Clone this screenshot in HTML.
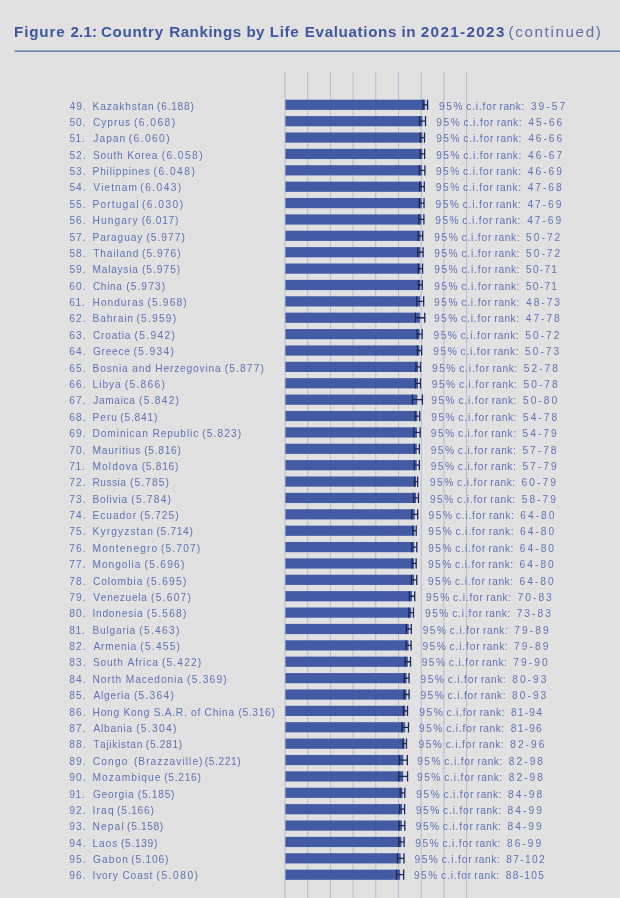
<!DOCTYPE html>
<html><head><meta charset="utf-8"><title>Figure 2.1</title>
<style>
html,body{margin:0;padding:0;}
body{width:620px;height:898px;background:#e1e1e1;position:relative;overflow:hidden;font-family:"Liberation Sans",sans-serif;font-kerning:none;}
#w{position:absolute;left:0;top:0;width:620px;height:898px;filter:blur(0.4px);}
span{position:absolute;white-space:pre;}
.t{top:22.2px;font-size:15.2px;line-height:20px;}
.tb{font-weight:bold;color:#3f57a0;}
.tc{color:#6071aa;}
.hr{position:absolute;left:14.5px;top:50.6px;width:606px;height:1.4px;background:#7d8fc4;}
svg{position:absolute;left:0;top:0;}
.r{position:absolute;left:0;width:620px;height:16px;font-size:10.2px;line-height:16px;color:#5e73b3;}
.r span{top:0.466px;}
</style></head><body><div id="w">

<span class="t tb" style="left:14.08px;letter-spacing:0.838px">Figure</span>
<span class="t tb" style="left:70.47px;letter-spacing:0.166px">2.1:</span>
<span class="t tb" style="left:100.88px;letter-spacing:0.674px">Country</span>
<span class="t tb" style="left:169.18px;letter-spacing:0.518px">Rankings</span>
<span class="t tb" style="left:246.40px;letter-spacing:0.245px">by</span>
<span class="t tb" style="left:269.78px;letter-spacing:0.638px">Life</span>
<span class="t tb" style="left:304.78px;letter-spacing:0.643px">Evaluations</span>
<span class="t tb" style="left:401.54px;letter-spacing:0.396px">in</span>
<span class="t tb" style="left:420.77px;letter-spacing:1.373px">2021-2023</span>
<span class="t tc" style="left:508.56px;letter-spacing:1.624px">(continued)</span>
<svg width="620" height="898" viewBox="0 0 620 898">
<rect x="14.5" y="50.4" width="606" height="1.6" fill="#6a80bc"/>
<rect x="284.50" y="72" width="1" height="826" fill="#b7bad3"/>
<rect x="307.20" y="72" width="1" height="826" fill="#b7bad3"/>
<rect x="329.90" y="72" width="1" height="826" fill="#b7bad3"/>
<rect x="352.60" y="72" width="1" height="826" fill="#b7bad3"/>
<rect x="375.30" y="72" width="1" height="826" fill="#b7bad3"/>
<rect x="398.00" y="72" width="1" height="826" fill="#b7bad3"/>
<rect x="420.70" y="72" width="1" height="826" fill="#b7bad3"/>
<rect x="443.40" y="72" width="1" height="826" fill="#b7bad3"/>
<rect x="466.10" y="72" width="1" height="826" fill="#b7bad3"/>
<rect x="285.4" y="99.70" width="139.9" height="10.2" fill="#435aa5"/>
<path d="M422.97 99.70v10.2M427.57 99.70v10.2M422.97 104.80h4.60" stroke="#1d2550" stroke-width="1.3" fill="none"/>
<rect x="285.4" y="116.08" width="137.1" height="10.2" fill="#435aa5"/>
<path d="M419.59 116.08v10.2M425.49 116.08v10.2M419.59 121.18h5.90" stroke="#1d2550" stroke-width="1.3" fill="none"/>
<rect x="285.4" y="132.46" width="137.0" height="10.2" fill="#435aa5"/>
<path d="M420.21 132.46v10.2M424.51 132.46v10.2M420.21 137.56h4.30" stroke="#1d2550" stroke-width="1.3" fill="none"/>
<rect x="285.4" y="148.84" width="136.9" height="10.2" fill="#435aa5"/>
<path d="M420.02 148.84v10.2M424.62 148.84v10.2M420.02 153.94h4.60" stroke="#1d2550" stroke-width="1.3" fill="none"/>
<rect x="285.4" y="165.22" width="136.7" height="10.2" fill="#435aa5"/>
<path d="M419.29 165.22v10.2M424.89 165.22v10.2M419.29 170.32h5.60" stroke="#1d2550" stroke-width="1.3" fill="none"/>
<rect x="285.4" y="181.61" width="136.6" height="10.2" fill="#435aa5"/>
<path d="M419.68 181.61v10.2M424.28 181.61v10.2M419.68 186.71h4.60" stroke="#1d2550" stroke-width="1.3" fill="none"/>
<rect x="285.4" y="197.99" width="136.3" height="10.2" fill="#435aa5"/>
<path d="M419.33 197.99v10.2M424.03 197.99v10.2M419.33 203.09h4.70" stroke="#1d2550" stroke-width="1.3" fill="none"/>
<rect x="285.4" y="214.37" width="136.0" height="10.2" fill="#435aa5"/>
<path d="M418.89 214.37v10.2M423.89 214.37v10.2M418.89 219.47h5.00" stroke="#1d2550" stroke-width="1.3" fill="none"/>
<rect x="285.4" y="230.75" width="135.1" height="10.2" fill="#435aa5"/>
<path d="M418.18 230.75v10.2M422.78 230.75v10.2M418.18 235.85h4.60" stroke="#1d2550" stroke-width="1.3" fill="none"/>
<rect x="285.4" y="247.13" width="135.1" height="10.2" fill="#435aa5"/>
<path d="M417.81 247.13v10.2M423.11 247.13v10.2M417.81 252.23h5.30" stroke="#1d2550" stroke-width="1.3" fill="none"/>
<rect x="285.4" y="263.51" width="135.0" height="10.2" fill="#435aa5"/>
<path d="M418.28 263.51v10.2M422.58 263.51v10.2M418.28 268.61h4.30" stroke="#1d2550" stroke-width="1.3" fill="none"/>
<rect x="285.4" y="279.89" width="135.0" height="10.2" fill="#435aa5"/>
<path d="M418.49 279.89v10.2M422.29 279.89v10.2M418.49 284.99h3.80" stroke="#1d2550" stroke-width="1.3" fill="none"/>
<rect x="285.4" y="296.27" width="134.9" height="10.2" fill="#435aa5"/>
<path d="M416.87 296.27v10.2M423.67 296.27v10.2M416.87 301.37h6.80" stroke="#1d2550" stroke-width="1.3" fill="none"/>
<rect x="285.4" y="312.65" width="134.7" height="10.2" fill="#435aa5"/>
<path d="M415.37 312.65v10.2M424.77 312.65v10.2M415.37 317.75h9.40" stroke="#1d2550" stroke-width="1.3" fill="none"/>
<rect x="285.4" y="329.03" width="134.3" height="10.2" fill="#435aa5"/>
<path d="M417.23 329.03v10.2M422.13 329.03v10.2M417.23 334.13h4.90" stroke="#1d2550" stroke-width="1.3" fill="none"/>
<rect x="285.4" y="345.42" width="134.1" height="10.2" fill="#435aa5"/>
<path d="M417.35 345.42v10.2M421.65 345.42v10.2M417.35 350.52h4.30" stroke="#1d2550" stroke-width="1.3" fill="none"/>
<rect x="285.4" y="361.80" width="132.8" height="10.2" fill="#435aa5"/>
<path d="M415.91 361.80v10.2M420.51 361.80v10.2M415.91 366.90h4.60" stroke="#1d2550" stroke-width="1.3" fill="none"/>
<rect x="285.4" y="378.18" width="132.6" height="10.2" fill="#435aa5"/>
<path d="M415.46 378.18v10.2M420.46 378.18v10.2M415.46 383.28h5.00" stroke="#1d2550" stroke-width="1.3" fill="none"/>
<rect x="285.4" y="394.56" width="132.0" height="10.2" fill="#435aa5"/>
<path d="M412.41 394.56v10.2M422.41 394.56v10.2M412.41 399.66h10.00" stroke="#1d2550" stroke-width="1.3" fill="none"/>
<rect x="285.4" y="410.94" width="132.0" height="10.2" fill="#435aa5"/>
<path d="M415.09 410.94v10.2M419.69 410.94v10.2M415.09 416.04h4.60" stroke="#1d2550" stroke-width="1.3" fill="none"/>
<rect x="285.4" y="427.32" width="131.6" height="10.2" fill="#435aa5"/>
<path d="M413.83 427.32v10.2M420.13 427.32v10.2M413.83 432.42h6.30" stroke="#1d2550" stroke-width="1.3" fill="none"/>
<rect x="285.4" y="443.70" width="131.4" height="10.2" fill="#435aa5"/>
<path d="M414.32 443.70v10.2M419.32 443.70v10.2M414.32 448.80h5.00" stroke="#1d2550" stroke-width="1.3" fill="none"/>
<rect x="285.4" y="460.08" width="131.4" height="10.2" fill="#435aa5"/>
<path d="M414.32 460.08v10.2M419.32 460.08v10.2M414.32 465.18h5.00" stroke="#1d2550" stroke-width="1.3" fill="none"/>
<rect x="285.4" y="476.46" width="130.7" height="10.2" fill="#435aa5"/>
<path d="M414.57 476.46v10.2M417.67 476.46v10.2M414.57 481.56h3.10" stroke="#1d2550" stroke-width="1.3" fill="none"/>
<rect x="285.4" y="492.84" width="130.7" height="10.2" fill="#435aa5"/>
<path d="M413.75 492.84v10.2M418.45 492.84v10.2M413.75 497.94h4.70" stroke="#1d2550" stroke-width="1.3" fill="none"/>
<rect x="285.4" y="509.22" width="129.4" height="10.2" fill="#435aa5"/>
<path d="M411.86 509.22v10.2M417.66 509.22v10.2M411.86 514.32h5.80" stroke="#1d2550" stroke-width="1.3" fill="none"/>
<rect x="285.4" y="525.61" width="129.1" height="10.2" fill="#435aa5"/>
<path d="M412.81 525.61v10.2M416.21 525.61v10.2M412.81 530.71h3.40" stroke="#1d2550" stroke-width="1.3" fill="none"/>
<rect x="285.4" y="541.99" width="128.9" height="10.2" fill="#435aa5"/>
<path d="M411.90 541.99v10.2M416.80 541.99v10.2M411.90 547.09h4.90" stroke="#1d2550" stroke-width="1.3" fill="none"/>
<rect x="285.4" y="558.37" width="128.7" height="10.2" fill="#435aa5"/>
<path d="M412.05 558.37v10.2M416.15 558.37v10.2M412.05 563.47h4.10" stroke="#1d2550" stroke-width="1.3" fill="none"/>
<rect x="285.4" y="574.75" width="128.7" height="10.2" fill="#435aa5"/>
<path d="M411.43 574.75v10.2M416.73 574.75v10.2M411.43 579.85h5.30" stroke="#1d2550" stroke-width="1.3" fill="none"/>
<rect x="285.4" y="591.13" width="126.7" height="10.2" fill="#435aa5"/>
<path d="M409.43 591.13v10.2M414.73 591.13v10.2M409.43 596.23h5.30" stroke="#1d2550" stroke-width="1.3" fill="none"/>
<rect x="285.4" y="607.51" width="125.8" height="10.2" fill="#435aa5"/>
<path d="M408.89 607.51v10.2M413.49 607.51v10.2M408.89 612.61h4.60" stroke="#1d2550" stroke-width="1.3" fill="none"/>
<rect x="285.4" y="623.89" width="123.4" height="10.2" fill="#435aa5"/>
<path d="M406.36 623.89v10.2M411.26 623.89v10.2M406.36 628.99h4.90" stroke="#1d2550" stroke-width="1.3" fill="none"/>
<rect x="285.4" y="640.27" width="123.2" height="10.2" fill="#435aa5"/>
<path d="M406.13 640.27v10.2M411.13 640.27v10.2M406.13 645.37h5.00" stroke="#1d2550" stroke-width="1.3" fill="none"/>
<rect x="285.4" y="656.65" width="122.5" height="10.2" fill="#435aa5"/>
<path d="M405.23 656.65v10.2M410.53 656.65v10.2M405.23 661.75h5.30" stroke="#1d2550" stroke-width="1.3" fill="none"/>
<rect x="285.4" y="673.04" width="121.3" height="10.2" fill="#435aa5"/>
<path d="M404.33 673.04v10.2M409.03 673.04v10.2M404.33 678.14h4.70" stroke="#1d2550" stroke-width="1.3" fill="none"/>
<rect x="285.4" y="689.42" width="121.2" height="10.2" fill="#435aa5"/>
<path d="M404.06 689.42v10.2M409.06 689.42v10.2M404.06 694.52h5.00" stroke="#1d2550" stroke-width="1.3" fill="none"/>
<rect x="285.4" y="705.80" width="120.1" height="10.2" fill="#435aa5"/>
<path d="M403.42 705.80v10.2M407.52 705.80v10.2M403.42 710.90h4.10" stroke="#1d2550" stroke-width="1.3" fill="none"/>
<rect x="285.4" y="722.18" width="119.8" height="10.2" fill="#435aa5"/>
<path d="M401.95 722.18v10.2M408.45 722.18v10.2M401.95 727.28h6.50" stroke="#1d2550" stroke-width="1.3" fill="none"/>
<rect x="285.4" y="738.56" width="119.3" height="10.2" fill="#435aa5"/>
<path d="M402.88 738.56v10.2M406.48 738.56v10.2M402.88 743.66h3.60" stroke="#1d2550" stroke-width="1.3" fill="none"/>
<rect x="285.4" y="754.94" width="117.9" height="10.2" fill="#435aa5"/>
<path d="M399.32 754.94v10.2M407.32 754.94v10.2M399.32 760.04h8.00" stroke="#1d2550" stroke-width="1.3" fill="none"/>
<rect x="285.4" y="771.32" width="117.8" height="10.2" fill="#435aa5"/>
<path d="M398.85 771.32v10.2M407.55 771.32v10.2M398.85 776.42h8.70" stroke="#1d2550" stroke-width="1.3" fill="none"/>
<rect x="285.4" y="787.70" width="117.1" height="10.2" fill="#435aa5"/>
<path d="M400.20 787.70v10.2M404.80 787.70v10.2M400.20 792.80h4.60" stroke="#1d2550" stroke-width="1.3" fill="none"/>
<rect x="285.4" y="804.08" width="116.7" height="10.2" fill="#435aa5"/>
<path d="M399.57 804.08v10.2M404.57 804.08v10.2M399.57 809.18h5.00" stroke="#1d2550" stroke-width="1.3" fill="none"/>
<rect x="285.4" y="820.46" width="116.5" height="10.2" fill="#435aa5"/>
<path d="M398.99 820.46v10.2M404.79 820.46v10.2M398.99 825.56h5.80" stroke="#1d2550" stroke-width="1.3" fill="none"/>
<rect x="285.4" y="836.85" width="116.1" height="10.2" fill="#435aa5"/>
<path d="M398.81 836.85v10.2M404.11 836.85v10.2M398.81 841.95h5.30" stroke="#1d2550" stroke-width="1.3" fill="none"/>
<rect x="285.4" y="853.23" width="115.3" height="10.2" fill="#435aa5"/>
<path d="M397.46 853.23v10.2M403.96 853.23v10.2M397.46 858.33h6.50" stroke="#1d2550" stroke-width="1.3" fill="none"/>
<rect x="285.4" y="869.61" width="114.7" height="10.2" fill="#435aa5"/>
<path d="M396.57 869.61v10.2M403.67 869.61v10.2M396.57 874.71h7.10" stroke="#1d2550" stroke-width="1.3" fill="none"/>
</svg>
<div class="r" style="top:99px"><span style="left:69.57px;letter-spacing:0.943px">49.</span><span style="left:92.56px;letter-spacing:0.871px">Kazakhstan</span><span style="left:157.11px;letter-spacing:0.738px">(6.188)</span><span style="left:439.09px;letter-spacing:1.513px">95%</span><span style="left:466.23px;letter-spacing:0.844px">c.i.for</span><span style="left:499.49px;letter-spacing:0.533px">rank:</span><span style="left:530.88px;letter-spacing:2.028px">39-57</span></div>
<div class="r" style="top:115px"><span style="left:69.39px;letter-spacing:1.030px">50.</span><span style="left:92.88px;letter-spacing:0.999px">Cyprus</span><span style="left:133.88px;letter-spacing:1.491px">(6.068)</span><span style="left:436.37px;letter-spacing:1.513px">95%</span><span style="left:463.51px;letter-spacing:0.844px">c.i.for</span><span style="left:496.77px;letter-spacing:0.533px">rank:</span><span style="left:528.31px;letter-spacing:1.974px">45-66</span></div>
<div class="r" style="top:131px"><span style="left:69.39px;letter-spacing:0.530px">51.</span><span style="left:93.24px;letter-spacing:1.071px">Japan</span><span style="left:128.72px;letter-spacing:1.437px">(6.060)</span><span style="left:436.18px;letter-spacing:1.513px">95%</span><span style="left:463.33px;letter-spacing:0.844px">c.i.for</span><span style="left:496.58px;letter-spacing:0.533px">rank:</span><span style="left:528.13px;letter-spacing:1.974px">46-66</span></div>
<div class="r" style="top:148px"><span style="left:69.39px;letter-spacing:1.030px">52.</span><span style="left:92.94px;letter-spacing:0.791px">South Korea</span><span style="left:161.63px;letter-spacing:1.437px">(6.058)</span><span style="left:436.14px;letter-spacing:1.513px">95%</span><span style="left:463.28px;letter-spacing:0.844px">c.i.for</span><span style="left:496.54px;letter-spacing:0.533px">rank:</span><span style="left:528.08px;letter-spacing:1.990px">46-67</span></div>
<div class="r" style="top:164px"><span style="left:69.39px;letter-spacing:1.030px">53.</span><span style="left:92.56px;letter-spacing:0.797px">Philippines</span><span style="left:153.56px;letter-spacing:1.491px">(6.048)</span><span style="left:435.91px;letter-spacing:1.513px">95%</span><span style="left:463.06px;letter-spacing:0.844px">c.i.for</span><span style="left:496.31px;letter-spacing:0.533px">rank:</span><span style="left:527.86px;letter-spacing:1.982px">46-69</span></div>
<div class="r" style="top:180px"><span style="left:69.39px;letter-spacing:1.030px">54.</span><span style="left:93.36px;letter-spacing:1.028px">Vietnam</span><span style="left:140.34px;letter-spacing:1.437px">(6.043)</span><span style="left:435.80px;letter-spacing:1.513px">95%</span><span style="left:462.94px;letter-spacing:0.844px">c.i.for</span><span style="left:496.20px;letter-spacing:0.533px">rank:</span><span style="left:527.74px;letter-spacing:1.972px">47-68</span></div>
<div class="r" style="top:197px"><span style="left:69.39px;letter-spacing:1.030px">55.</span><span style="left:92.56px;letter-spacing:1.144px">Portugal</span><span style="left:141.95px;letter-spacing:1.491px">(6.030)</span><span style="left:435.50px;letter-spacing:1.513px">95%</span><span style="left:462.65px;letter-spacing:0.844px">c.i.for</span><span style="left:495.90px;letter-spacing:0.533px">rank:</span><span style="left:527.45px;letter-spacing:1.982px">47-69</span></div>
<div class="r" style="top:213px"><span style="left:69.39px;letter-spacing:1.030px">56.</span><span style="left:92.56px;letter-spacing:1.077px">Hungary</span><span style="left:141.63px;letter-spacing:0.738px">(6.017)</span><span style="left:435.21px;letter-spacing:1.513px">95%</span><span style="left:462.35px;letter-spacing:0.844px">c.i.for</span><span style="left:495.61px;letter-spacing:0.533px">rank:</span><span style="left:527.15px;letter-spacing:1.982px">47-69</span></div>
<div class="r" style="top:230px"><span style="left:69.39px;letter-spacing:1.030px">57.</span><span style="left:92.56px;letter-spacing:0.884px">Paraguay</span><span style="left:146.46px;letter-spacing:1.007px">(5.977)</span><span style="left:434.30px;letter-spacing:1.513px">95%</span><span style="left:461.44px;letter-spacing:0.844px">c.i.for</span><span style="left:494.70px;letter-spacing:0.533px">rank:</span><span style="left:526.07px;letter-spacing:2.033px">50-72</span></div>
<div class="r" style="top:246px"><span style="left:69.39px;letter-spacing:1.030px">58.</span><span style="left:93.17px;letter-spacing:0.892px">Thailand</span><span style="left:141.95px;letter-spacing:1.061px">(5.976)</span><span style="left:434.28px;letter-spacing:1.513px">95%</span><span style="left:461.42px;letter-spacing:0.844px">c.i.for</span><span style="left:494.68px;letter-spacing:0.533px">rank:</span><span style="left:526.05px;letter-spacing:2.033px">50-72</span></div>
<div class="r" style="top:262px"><span style="left:69.39px;letter-spacing:1.030px">59.</span><span style="left:92.56px;letter-spacing:0.724px">Malaysia</span><span style="left:141.95px;letter-spacing:1.007px">(5.975)</span><span style="left:434.25px;letter-spacing:1.513px">95%</span><span style="left:461.40px;letter-spacing:0.844px">c.i.for</span><span style="left:494.66px;letter-spacing:0.533px">rank:</span><span style="left:526.02px;letter-spacing:1.230px">50-71</span></div>
<div class="r" style="top:279px"><span style="left:69.28px;letter-spacing:1.085px">60.</span><span style="left:92.88px;letter-spacing:0.635px">China</span><span style="left:126.14px;letter-spacing:1.115px">(5.973)</span><span style="left:434.21px;letter-spacing:1.513px">95%</span><span style="left:461.35px;letter-spacing:0.844px">c.i.for</span><span style="left:494.61px;letter-spacing:0.533px">rank:</span><span style="left:525.98px;letter-spacing:1.230px">50-71</span></div>
<div class="r" style="top:295px"><span style="left:69.28px;letter-spacing:0.585px">61.</span><span style="left:92.56px;letter-spacing:0.992px">Honduras</span><span style="left:147.43px;letter-spacing:1.169px">(5.968)</span><span style="left:434.10px;letter-spacing:1.513px">95%</span><span style="left:461.24px;letter-spacing:0.844px">c.i.for</span><span style="left:494.50px;letter-spacing:0.533px">rank:</span><span style="left:526.04px;letter-spacing:1.974px">48-73</span></div>
<div class="r" style="top:311px"><span style="left:69.28px;letter-spacing:1.085px">62.</span><span style="left:92.56px;letter-spacing:0.890px">Bahrain</span><span style="left:136.46px;letter-spacing:1.222px">(5.959)</span><span style="left:433.89px;letter-spacing:1.513px">95%</span><span style="left:461.04px;letter-spacing:0.844px">c.i.for</span><span style="left:494.29px;letter-spacing:0.533px">rank:</span><span style="left:525.84px;letter-spacing:1.972px">47-78</span></div>
<div class="r" style="top:328px"><span style="left:69.28px;letter-spacing:1.085px">63.</span><span style="left:92.88px;letter-spacing:0.783px">Croatia</span><span style="left:134.53px;letter-spacing:1.330px">(5.942)</span><span style="left:433.51px;letter-spacing:1.513px">95%</span><span style="left:460.65px;letter-spacing:0.844px">c.i.for</span><span style="left:493.91px;letter-spacing:0.533px">rank:</span><span style="left:525.28px;letter-spacing:2.033px">50-72</span></div>
<div class="r" style="top:344px"><span style="left:69.28px;letter-spacing:1.085px">64.</span><span style="left:92.89px;letter-spacing:0.722px">Greece</span><span style="left:133.56px;letter-spacing:1.330px">(5.934)</span><span style="left:433.32px;letter-spacing:1.513px">95%</span><span style="left:460.47px;letter-spacing:0.844px">c.i.for</span><span style="left:493.72px;letter-spacing:0.533px">rank:</span><span style="left:525.09px;letter-spacing:2.017px">50-73</span></div>
<div class="r" style="top:361px"><span style="left:69.28px;letter-spacing:1.085px">65.</span><span style="left:92.56px;letter-spacing:0.813px">Bosnia and Herzegovina</span><span style="left:224.85px;letter-spacing:1.115px">(5.877)</span><span style="left:432.03px;letter-spacing:1.513px">95%</span><span style="left:459.17px;letter-spacing:0.844px">c.i.for</span><span style="left:492.43px;letter-spacing:0.533px">rank:</span><span style="left:523.80px;letter-spacing:2.016px">52-78</span></div>
<div class="r" style="top:377px"><span style="left:69.28px;letter-spacing:1.085px">66.</span><span style="left:92.56px;letter-spacing:0.959px">Libya</span><span style="left:124.85px;letter-spacing:1.276px">(5.866)</span><span style="left:431.78px;letter-spacing:1.513px">95%</span><span style="left:458.92px;letter-spacing:0.844px">c.i.for</span><span style="left:492.18px;letter-spacing:0.533px">rank:</span><span style="left:523.55px;letter-spacing:2.016px">50-78</span></div>
<div class="r" style="top:393px"><span style="left:69.28px;letter-spacing:1.085px">67.</span><span style="left:93.24px;letter-spacing:0.626px">Jamaica</span><span style="left:139.04px;letter-spacing:1.276px">(5.842)</span><span style="left:431.24px;letter-spacing:1.513px">95%</span><span style="left:458.38px;letter-spacing:0.844px">c.i.for</span><span style="left:491.64px;letter-spacing:0.533px">rank:</span><span style="left:523.01px;letter-spacing:2.005px">50-80</span></div>
<div class="r" style="top:410px"><span style="left:69.28px;letter-spacing:1.085px">68.</span><span style="left:92.56px;letter-spacing:0.945px">Peru</span><span style="left:120.34px;letter-spacing:0.792px">(5.841)</span><span style="left:431.21px;letter-spacing:1.513px">95%</span><span style="left:458.36px;letter-spacing:0.844px">c.i.for</span><span style="left:491.61px;letter-spacing:0.533px">rank:</span><span style="left:522.98px;letter-spacing:2.016px">54-78</span></div>
<div class="r" style="top:426px"><span style="left:69.28px;letter-spacing:1.085px">69.</span><span style="left:92.56px;letter-spacing:0.894px">Dominican Republic</span><span style="left:202.27px;letter-spacing:1.115px">(5.823)</span><span style="left:430.80px;letter-spacing:1.513px">95%</span><span style="left:457.95px;letter-spacing:0.844px">c.i.for</span><span style="left:491.20px;letter-spacing:0.533px">rank:</span><span style="left:522.57px;letter-spacing:2.026px">54-79</span></div>
<div class="r" style="top:443px"><span style="left:69.28px;letter-spacing:1.087px">70.</span><span style="left:92.56px;letter-spacing:0.821px">Mauritius</span><span style="left:144.21px;letter-spacing:0.738px">(5.816)</span><span style="left:430.65px;letter-spacing:1.513px">95%</span><span style="left:457.79px;letter-spacing:0.844px">c.i.for</span><span style="left:491.05px;letter-spacing:0.533px">rank:</span><span style="left:522.41px;letter-spacing:2.016px">57-78</span></div>
<div class="r" style="top:459px"><span style="left:69.28px;letter-spacing:0.587px">71.</span><span style="left:92.56px;letter-spacing:1.073px">Moldova</span><span style="left:141.63px;letter-spacing:0.738px">(5.816)</span><span style="left:430.65px;letter-spacing:1.513px">95%</span><span style="left:457.79px;letter-spacing:0.844px">c.i.for</span><span style="left:491.05px;letter-spacing:0.533px">rank:</span><span style="left:522.41px;letter-spacing:2.026px">57-79</span></div>
<div class="r" style="top:475px"><span style="left:69.28px;letter-spacing:1.087px">72.</span><span style="left:92.56px;letter-spacing:0.441px">Russia</span><span style="left:130.01px;letter-spacing:1.115px">(5.785)</span><span style="left:429.94px;letter-spacing:1.513px">95%</span><span style="left:457.09px;letter-spacing:0.844px">c.i.for</span><span style="left:490.34px;letter-spacing:0.533px">rank:</span><span style="left:521.60px;letter-spacing:2.053px">60-79</span></div>
<div class="r" style="top:492px"><span style="left:69.28px;letter-spacing:1.087px">73.</span><span style="left:92.56px;letter-spacing:0.771px">Bolivia</span><span style="left:131.30px;letter-spacing:1.222px">(5.784)</span><span style="left:429.92px;letter-spacing:1.513px">95%</span><span style="left:457.06px;letter-spacing:0.844px">c.i.for</span><span style="left:490.32px;letter-spacing:0.533px">rank:</span><span style="left:521.69px;letter-spacing:2.026px">58-79</span></div>
<div class="r" style="top:508px"><span style="left:69.28px;letter-spacing:1.087px">74.</span><span style="left:92.56px;letter-spacing:0.927px">Ecuador</span><span style="left:140.01px;letter-spacing:1.061px">(5.725)</span><span style="left:428.58px;letter-spacing:1.513px">95%</span><span style="left:455.72px;letter-spacing:0.844px">c.i.for</span><span style="left:488.98px;letter-spacing:0.533px">rank:</span><span style="left:520.24px;letter-spacing:2.032px">64-80</span></div>
<div class="r" style="top:524px"><span style="left:69.28px;letter-spacing:1.087px">75.</span><span style="left:92.56px;letter-spacing:1.116px">Kyrgyzstan</span><span style="left:156.46px;letter-spacing:0.685px">(5.714)</span><span style="left:428.33px;letter-spacing:1.513px">95%</span><span style="left:455.47px;letter-spacing:0.844px">c.i.for</span><span style="left:488.73px;letter-spacing:0.533px">rank:</span><span style="left:519.99px;letter-spacing:2.032px">64-80</span></div>
<div class="r" style="top:541px"><span style="left:69.28px;letter-spacing:1.087px">76.</span><span style="left:92.56px;letter-spacing:1.149px">Montenegro</span><span style="left:160.98px;letter-spacing:1.169px">(5.707)</span><span style="left:428.17px;letter-spacing:1.513px">95%</span><span style="left:455.32px;letter-spacing:0.844px">c.i.for</span><span style="left:488.57px;letter-spacing:0.533px">rank:</span><span style="left:519.83px;letter-spacing:2.032px">64-80</span></div>
<div class="r" style="top:557px"><span style="left:69.28px;letter-spacing:1.087px">77.</span><span style="left:92.56px;letter-spacing:0.929px">Mongolia</span><span style="left:144.53px;letter-spacing:1.276px">(5.696)</span><span style="left:427.92px;letter-spacing:1.513px">95%</span><span style="left:455.07px;letter-spacing:0.844px">c.i.for</span><span style="left:488.32px;letter-spacing:0.533px">rank:</span><span style="left:519.58px;letter-spacing:2.032px">64-80</span></div>
<div class="r" style="top:574px"><span style="left:69.28px;letter-spacing:1.087px">78.</span><span style="left:92.88px;letter-spacing:0.918px">Colombia</span><span style="left:146.46px;letter-spacing:1.276px">(5.695)</span><span style="left:427.90px;letter-spacing:1.513px">95%</span><span style="left:455.04px;letter-spacing:0.844px">c.i.for</span><span style="left:488.30px;letter-spacing:0.533px">rank:</span><span style="left:519.56px;letter-spacing:2.032px">64-80</span></div>
<div class="r" style="top:590px"><span style="left:69.28px;letter-spacing:1.087px">79.</span><span style="left:93.36px;letter-spacing:0.669px">Venezuela</span><span style="left:150.98px;letter-spacing:1.276px">(5.607)</span><span style="left:425.90px;letter-spacing:1.513px">95%</span><span style="left:453.05px;letter-spacing:0.844px">c.i.for</span><span style="left:486.30px;letter-spacing:0.533px">rank:</span><span style="left:517.56px;letter-spacing:2.046px">70-83</span></div>
<div class="r" style="top:606px"><span style="left:69.36px;letter-spacing:1.048px">80.</span><span style="left:92.46px;letter-spacing:0.753px">Indonesia</span><span style="left:146.79px;letter-spacing:1.222px">(5.568)</span><span style="left:425.02px;letter-spacing:1.513px">95%</span><span style="left:452.16px;letter-spacing:0.844px">c.i.for</span><span style="left:485.42px;letter-spacing:0.533px">rank:</span><span style="left:516.67px;letter-spacing:2.046px">73-83</span></div>
<div class="r" style="top:623px"><span style="left:69.36px;letter-spacing:0.548px">81.</span><span style="left:92.56px;letter-spacing:0.759px">Bulgaria</span><span style="left:139.37px;letter-spacing:1.276px">(5.463)</span><span style="left:422.63px;letter-spacing:1.513px">95%</span><span style="left:449.78px;letter-spacing:0.844px">c.i.for</span><span style="left:483.03px;letter-spacing:0.533px">rank:</span><span style="left:514.29px;letter-spacing:2.055px">79-89</span></div>
<div class="r" style="top:639px"><span style="left:69.36px;letter-spacing:1.048px">82.</span><span style="left:93.38px;letter-spacing:0.818px">Armenia</span><span style="left:140.34px;letter-spacing:1.222px">(5.455)</span><span style="left:422.45px;letter-spacing:1.513px">95%</span><span style="left:449.60px;letter-spacing:0.844px">c.i.for</span><span style="left:482.85px;letter-spacing:0.533px">rank:</span><span style="left:514.11px;letter-spacing:2.055px">79-89</span></div>
<div class="r" style="top:655px"><span style="left:69.36px;letter-spacing:1.048px">83.</span><span style="left:92.94px;letter-spacing:0.853px">South Africa</span><span style="left:161.95px;letter-spacing:1.169px">(5.422)</span><span style="left:421.70px;letter-spacing:1.513px">95%</span><span style="left:448.85px;letter-spacing:0.844px">c.i.for</span><span style="left:482.10px;letter-spacing:0.533px">rank:</span><span style="left:513.36px;letter-spacing:2.033px">79-90</span></div>
<div class="r" style="top:672px"><span style="left:69.36px;letter-spacing:1.048px">84.</span><span style="left:92.56px;letter-spacing:0.915px">North Macedonia</span><span style="left:187.11px;letter-spacing:1.222px">(5.369)</span><span style="left:420.50px;letter-spacing:1.513px">95%</span><span style="left:447.64px;letter-spacing:0.844px">c.i.for</span><span style="left:480.90px;letter-spacing:0.533px">rank:</span><span style="left:512.23px;letter-spacing:2.026px">80-93</span></div>
<div class="r" style="top:688px"><span style="left:69.36px;letter-spacing:1.048px">85.</span><span style="left:93.38px;letter-spacing:0.781px">Algeria</span><span style="left:133.88px;letter-spacing:1.276px">(5.364)</span><span style="left:420.38px;letter-spacing:1.513px">95%</span><span style="left:447.53px;letter-spacing:0.844px">c.i.for</span><span style="left:480.79px;letter-spacing:0.533px">rank:</span><span style="left:512.12px;letter-spacing:2.026px">80-93</span></div>
<div class="r" style="top:705px"><span style="left:69.36px;letter-spacing:1.048px">86.</span><span style="left:92.56px;letter-spacing:0.733px">Hong Kong S.A.R. of China</span><span style="left:238.40px;letter-spacing:0.685px">(5.316)</span><span style="left:419.30px;letter-spacing:1.513px">95%</span><span style="left:446.44px;letter-spacing:0.844px">c.i.for</span><span style="left:479.70px;letter-spacing:0.533px">rank:</span><span style="left:511.03px;letter-spacing:1.189px">81-94</span></div>
<div class="r" style="top:721px"><span style="left:69.36px;letter-spacing:1.048px">87.</span><span style="left:93.38px;letter-spacing:0.778px">Albania</span><span style="left:136.14px;letter-spacing:1.330px">(5.304)</span><span style="left:419.02px;letter-spacing:1.513px">95%</span><span style="left:446.17px;letter-spacing:0.844px">c.i.for</span><span style="left:479.42px;letter-spacing:0.533px">rank:</span><span style="left:510.76px;letter-spacing:1.226px">81-96</span></div>
<div class="r" style="top:737px"><span style="left:69.36px;letter-spacing:1.048px">88.</span><span style="left:93.17px;letter-spacing:0.685px">Tajikistan</span><span style="left:145.82px;letter-spacing:0.685px">(5.281)</span><span style="left:418.50px;letter-spacing:1.513px">95%</span><span style="left:445.65px;letter-spacing:0.844px">c.i.for</span><span style="left:478.90px;letter-spacing:0.533px">rank:</span><span style="left:510.24px;letter-spacing:2.026px">82-96</span></div>
<div class="r" style="top:754px"><span style="left:69.36px;letter-spacing:1.048px">89.</span><span style="left:92.71px;letter-spacing:1.190px">Congo</span><span style="left:133.88px;letter-spacing:1.048px">(Brazzaville)</span><span style="left:204.85px;letter-spacing:0.577px">(5.221)</span><span style="left:417.14px;letter-spacing:1.513px">95%</span><span style="left:444.28px;letter-spacing:0.844px">c.i.for</span><span style="left:477.54px;letter-spacing:0.533px">rank:</span><span style="left:508.87px;letter-spacing:2.025px">82-98</span></div>
<div class="r" style="top:770px"><span style="left:69.32px;letter-spacing:1.065px">90.</span><span style="left:92.56px;letter-spacing:1.070px">Mozambique</span><span style="left:164.21px;letter-spacing:0.738px">(5.216)</span><span style="left:417.03px;letter-spacing:1.513px">95%</span><span style="left:444.17px;letter-spacing:0.844px">c.i.for</span><span style="left:477.43px;letter-spacing:0.533px">rank:</span><span style="left:508.76px;letter-spacing:2.025px">82-98</span></div>
<div class="r" style="top:787px"><span style="left:69.32px;letter-spacing:0.565px">91.</span><span style="left:92.89px;letter-spacing:0.752px">Georgia</span><span style="left:137.75px;letter-spacing:0.738px">(5.185)</span><span style="left:416.32px;letter-spacing:1.513px">95%</span><span style="left:443.47px;letter-spacing:0.844px">c.i.for</span><span style="left:476.72px;letter-spacing:0.533px">rank:</span><span style="left:508.06px;letter-spacing:2.025px">84-98</span></div>
<div class="r" style="top:803px"><span style="left:69.32px;letter-spacing:1.065px">92.</span><span style="left:92.46px;letter-spacing:1.220px">Iraq</span><span style="left:117.11px;letter-spacing:0.738px">(5.166)</span><span style="left:415.89px;letter-spacing:1.513px">95%</span><span style="left:443.03px;letter-spacing:0.844px">c.i.for</span><span style="left:476.29px;letter-spacing:0.533px">rank:</span><span style="left:507.62px;letter-spacing:2.035px">84-99</span></div>
<div class="r" style="top:819px"><span style="left:69.32px;letter-spacing:1.065px">93.</span><span style="left:92.56px;letter-spacing:1.128px">Nepal</span><span style="left:127.11px;letter-spacing:0.631px">(5.158)</span><span style="left:415.71px;letter-spacing:1.513px">95%</span><span style="left:442.85px;letter-spacing:0.844px">c.i.for</span><span style="left:476.11px;letter-spacing:0.533px">rank:</span><span style="left:507.44px;letter-spacing:2.035px">84-99</span></div>
<div class="r" style="top:836px"><span style="left:69.32px;letter-spacing:1.065px">94.</span><span style="left:92.56px;letter-spacing:0.867px">Laos</span><span style="left:120.98px;letter-spacing:0.685px">(5.139)</span><span style="left:415.28px;letter-spacing:1.513px">95%</span><span style="left:442.42px;letter-spacing:0.844px">c.i.for</span><span style="left:475.68px;letter-spacing:0.533px">rank:</span><span style="left:507.01px;letter-spacing:2.035px">86-99</span></div>
<div class="r" style="top:852px"><span style="left:69.32px;letter-spacing:1.065px">95.</span><span style="left:92.89px;letter-spacing:1.096px">Gabon</span><span style="left:131.30px;letter-spacing:0.792px">(5.106)</span><span style="left:414.53px;letter-spacing:1.513px">95%</span><span style="left:441.67px;letter-spacing:0.844px">c.i.for</span><span style="left:474.93px;letter-spacing:0.533px">rank:</span><span style="left:506.26px;letter-spacing:1.339px">87-102</span></div>
<div class="r" style="top:868px"><span style="left:69.32px;letter-spacing:1.065px">96.</span><span style="left:92.46px;letter-spacing:0.843px">Ivory Coast</span><span style="left:156.46px;letter-spacing:1.545px">(5.080)</span><span style="left:413.94px;letter-spacing:1.513px">95%</span><span style="left:441.08px;letter-spacing:0.844px">c.i.for</span><span style="left:474.34px;letter-spacing:0.533px">rank:</span><span style="left:505.67px;letter-spacing:1.322px">88-105</span></div>
</div></body></html>
